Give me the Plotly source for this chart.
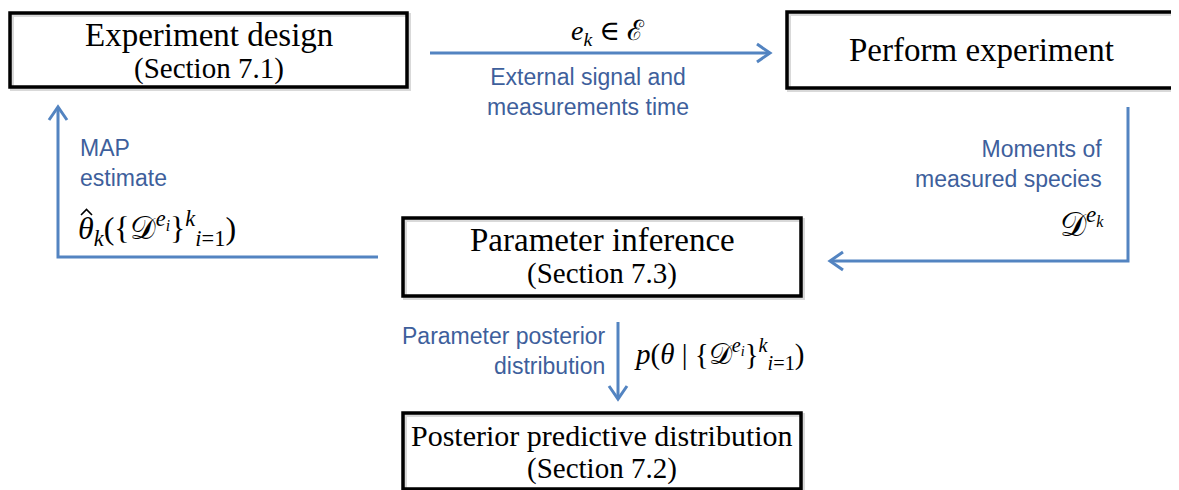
import plotly.graph_objects as go

W, H = 1179, 490
PAGE_MARGIN = 8  # browser's default body margin

# Boxes: (x0, y0, x1, y1) in page pixel units
box_rects = [(10, 13, 407, 87), (787, 12, 1175, 88), (403, 218, 801, 296), (403, 413, 801, 489)]
box_line1 = ["Experiment design", "Perform experiment", "Parameter inference", "Posterior predictive distribution"]
box_line2 = ["(Section 7.1)", "", "(Section 7.3)", "(Section 7.2)"]
box_title_size = [33, 33, 33, 30]

# Arrows as polylines, last point is the tip
arrow_paths = [
    [(430, 53), (770, 53)],
    [(378, 257), (58, 257), (58, 107)],
    [(1128, 107), (1128, 261), (830, 261)],
    [(618, 322), (618, 399)],
]

# Blue labels
label_x = [588, 78, 1104, 608]
label_y = [92, 163, 164, 351]
label_text = ["External signal and<br>measurements time", "MAP<br>estimate",
              "Moments of<br>measured species", "Parameter posterior<br>distribution"]
label_align = ["center", "left", "right", "right"]

# Math labels
math_x = [608, 76, 1106, 632]
math_y = [32, 228, 222, 354]
math_text = [
    "<i>e</i><sub><i>k</i></sub> ∈ ℰ",
    "<i>θ</i><sub><i>k</i></sub>({𝒟<sup><i>e<sub>i</sub></i></sup>}<sup><i>k</i></sup><sub><i>i</i>=1</sub>)",
    "𝒟<sup><i>e<sub>k</sub></i></sup>",
    "<i>p</i>(<i>θ</i> | {𝒟<sup><i>e<sub>i</sub></i></sup>}<sup><i>k</i></sup><sub><i>i</i>=1</sub>)",
]
math_align = ["center", "left", "right", "left"]
math_size = [28, 32, 33, 29]

ARROW = "#5384C1"
TEXT_BLUE = "#3E5F9C"
SERIF = "Liberation Serif, DejaVu Serif, serif"
SANS = "Liberation Sans, Arial, sans-serif"

fig = go.Figure()
shapes = []
annotations = []

for (x0, y0, x1, y1) in box_rects:
    shapes.append(dict(type="rect", x0=x0 + 2, y0=y0 + 2, x1=x1 + 2, y1=y1 + 2,
                       line=dict(color="rgba(0,0,0,0.15)", width=4), layer="below"))
    shapes.append(dict(type="rect", x0=x0, y0=y0, x1=x1, y1=y1,
                       line=dict(color="black", width=3.5), fillcolor="rgba(0,0,0,0)"))

for rect, l1, l2, s in zip(box_rects, box_line1, box_line2, box_title_size):
    x0, y0, x1, y1 = rect
    cx = (x0 + x1) / 2
    if l2:
        annotations.append(dict(x=cx, y=y0 + 22, text=l1, showarrow=False,
                                font=dict(family=SERIF, size=s, color="black")))
        annotations.append(dict(x=cx, y=y0 + 55, text=l2, showarrow=False,
                                font=dict(family=SERIF, size=29, color="black")))
    else:
        annotations.append(dict(x=cx, y=(y0 + y1) / 2, text=l1, showarrow=False,
                                font=dict(family=SERIF, size=s, color="black")))

for pts in arrow_paths:
    d = "M " + " L ".join(f"{x},{y}" for x, y in pts)
    shapes.append(dict(type="path", path=d, line=dict(color=ARROW, width=3)))
    (xa, ya), (xb, yb) = pts[-2], pts[-1]
    dx, dy = xb - xa, yb - ya
    n = (dx * dx + dy * dy) ** 0.5
    ux, uy = dx / n, dy / n
    px, py = -uy, ux
    L, Wd = 13, 9
    p1 = (xb - ux * L + px * Wd, yb - uy * L + py * Wd)
    p2 = (xb - ux * L - px * Wd, yb - uy * L - py * Wd)
    shapes.append(dict(type="path",
                       path=f"M {p1[0]},{p1[1]} L {xb},{yb} L {p2[0]},{p2[1]}",
                       line=dict(color=ARROW, width=3)))

for x, y, t, al in zip(label_x, label_y, label_text, label_align):
    annotations.append(dict(x=x, y=y, text=t, showarrow=False, xanchor=al, align=al,
                            font=dict(family=SANS, size=23, color=TEXT_BLUE)))

for x, y, t, al, s in zip(math_x, math_y, math_text, math_align, math_size):
    annotations.append(dict(x=x, y=y, text=t, showarrow=False, xanchor=al,
                            font=dict(family=SERIF, size=s, color="black")))

# hat accent over theta in the MAP estimate
shapes.append(dict(type="path", path="M 81,215 L 86.5,209.5 L 92,215",
                   line=dict(color="black", width=1.6)))

fig.update_layout(
    width=W - PAGE_MARGIN, height=H - PAGE_MARGIN,
    margin=dict(l=0, r=0, t=0, b=0),
    paper_bgcolor="white", plot_bgcolor="white",
    xaxis=dict(range=[PAGE_MARGIN, W], visible=False, fixedrange=True),
    yaxis=dict(range=[H, PAGE_MARGIN], visible=False, fixedrange=True),
    shapes=shapes, annotations=annotations, showlegend=False,
)
fig.write_html("out.html")
